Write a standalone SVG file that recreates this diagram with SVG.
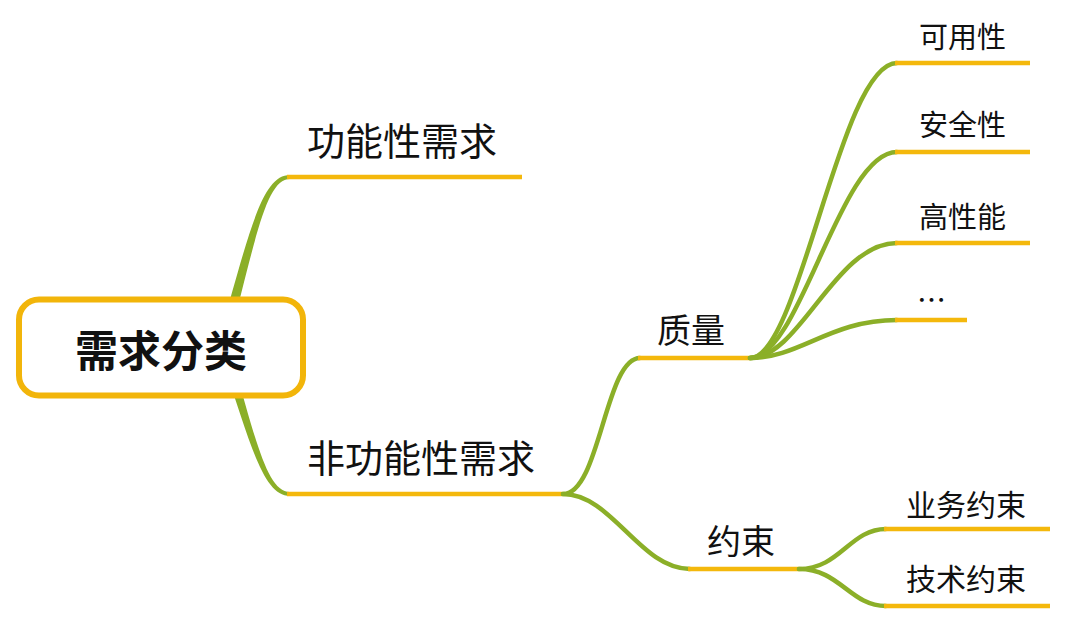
<svg xmlns="http://www.w3.org/2000/svg" width="1086" height="630" viewBox="0 0 1086 630">
<style>
.g{fill:none;stroke:#8BAF28;stroke-width:4.5;stroke-linecap:round}
.gf{fill:#8BAF28;stroke:none}
.o{fill:none;stroke:#F4B80C;stroke-width:4.5}
.t{font-family:"Noto Sans CJK SC","Noto Sans",sans-serif;fill:#111;dominant-baseline:central}
</style>
<rect width="1086" height="630" fill="#fff"/>
<g id="connectors">
  <path class="gf" d="M220,335 C250,230 262,175 290,175 L290,179 C267,179 257,232 230,338 Z"/>
  <path class="gf" d="M222,360 C250,440 262,496 290,496 L290,492 C267,492 256,440 232,358 Z"/>
  <line class="o" x1="287" y1="177" x2="522" y2="177"/>
  <line class="o" x1="287" y1="494" x2="563" y2="494"/>
  <path class="g" d="M563,494 C600,494 605,358 640,358"/>
  <path class="g" d="M563,494 C612,494 640,569 690,569"/>
  <line class="o" x1="638" y1="358" x2="750" y2="358"/>
  <line class="o" x1="688" y1="569" x2="799" y2="569"/>
  <path class="g" d="M750,358 C800,358 840,63 897,63"/>
  <path class="g" d="M750,358 C800,358 840,152 897,152"/>
  <path class="g" d="M750,358 C800,358 835,243 897,243"/>
  <path class="g" d="M750,358 C800,358 830,320 897,320"/>
  <line class="o" x1="895" y1="63" x2="1030" y2="63"/>
  <line class="o" x1="895" y1="152" x2="1030" y2="152"/>
  <line class="o" x1="895" y1="243" x2="1030" y2="243"/>
  <line class="o" x1="895" y1="320" x2="967" y2="320"/>
  <path class="g" d="M799,569 C840,569 850,529 886,529"/>
  <path class="g" d="M799,569 C840,569 850,606 886,606"/>
  <line class="o" x1="884" y1="529" x2="1050" y2="529"/>
  <line class="o" x1="884" y1="606" x2="1050" y2="606"/>
</g>
<g id="root">
  <rect x="19" y="299.5" width="284" height="96" rx="20" fill="#fff" stroke="#F2B50A" stroke-width="6"/>
  <text class="t" x="161" y="348" font-size="43" font-weight="bold" text-anchor="middle">需求分类</text>
</g>
<g id="functional"><text class="t" x="307" y="138" font-size="38">功能性需求</text></g>
<g id="nonfunctional"><text class="t" x="307" y="455" font-size="38">非功能性需求</text></g>
<g id="quality"><text class="t" x="657" y="328" font-size="34">质量</text></g>
<g id="constraint"><text class="t" x="707" y="539" font-size="34">约束</text></g>
<g id="availability"><text class="t" x="919" y="35" font-size="29">可用性</text></g>
<g id="security"><text class="t" x="919" y="123" font-size="29">安全性</text></g>
<g id="performance"><text class="t" x="919" y="215" font-size="29">高性能</text></g>
<g id="more"><text class="t" x="917" y="298" font-size="29">…</text></g>
<g id="business"><text class="t" x="906" y="503" font-size="30">业务约束</text></g>
<g id="technical"><text class="t" x="906" y="577" font-size="30">技术约束</text></g>
</svg>
